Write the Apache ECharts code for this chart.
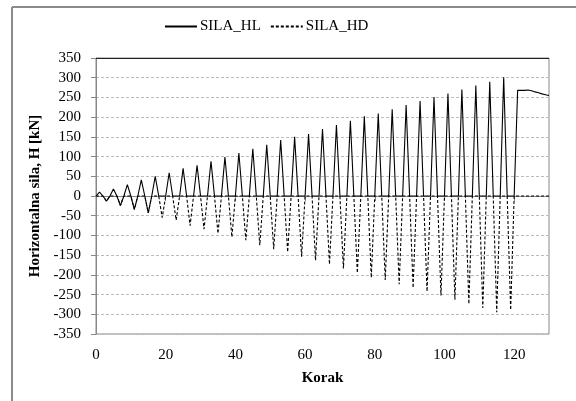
<!DOCTYPE html>
<html>
<head>
<meta charset="utf-8">
<script src="https://cdn.jsdelivr.net/npm/echarts@6/dist/echarts.min.js"></script>
<style>
html,body{margin:0;padding:0;background:#fff;}
#c{width:576px;height:401px;}
</style>
</head>
<body>
<div id="c"></div>
<script>
// Step index is the array position (Korak 0..130)
var silaHL = [
  0,10,0,-13,0,18,0,-24,0,29,
  0,-34,0,41,0,-43,0,50,0,0,
  0,59,0,0,0,70,0,0,0,78,
  0,0,0,88,0,0,0,99,0,0,
  0,109,0,0,0,120,0,0,0,130,
  0,0,0,142,0,0,0,150,0,0,
  0,157,0,0,0,170,0,0,0,180,
  0,0,0,191,0,0,0,202,0,0,
  0,209,0,0,0,220,0,0,0,231,
  0,0,0,241,0,0,0,251,0,0,
  0,260,0,0,0,270,0,0,0,280,
  0,0,0,290,0,0,0,301,0,0,
  0,268,268,268,269,267,264,262,259,257,255
];
var silaHD = [
  0,0,0,-13,0,0,0,-24,0,0,
  0,-34,0,0,0,-43,0,0,0,-55,
  0,0,0,-61,0,0,0,-75,0,0,
  0,-84,0,0,0,-95,0,0,0,-104,
  0,0,0,-112,0,0,0,-125,0,0,
  0,-135,0,0,0,-142,0,0,0,-154,
  0,0,0,-163,0,0,0,-173,0,0,
  0,-184,0,0,0,-195,0,0,0,-207,
  0,0,0,-213,0,0,0,-224,0,0,
  0,-233,0,0,0,-242,0,0,0,-252,
  0,0,0,-263,0,0,0,-274,0,0,
  0,-284,0,0,0,-295,0,0,0,-289,
  0,0,0,0,0,0,0,0,0,0,0
];
var seriesNames = ['SILA_HL', 'SILA_HD'];
var xName = 'Korak';
var yName = 'Horizontalna sila, H [kN]';

function pairs(arr){ return arr.map(function(v,i){ return [i, v]; }); }

var FONT = 'Liberation Serif';
var chart = echarts.init(document.getElementById('c'), null, {renderer:'canvas'});
chart.setOption({
  animation: false,
  backgroundColor: '#fff',
  textStyle: {fontFamily: FONT},
  graphic: [
    {type: 'line', silent: true, z: -10,
     shape: {x1: 12, y1: 7, x2: 580, y2: 7},
     style: {stroke: '#8a8a8a', lineWidth: 2}},
    {type: 'line', silent: true, z: -10,
     shape: {x1: 12, y1: 7, x2: 12, y2: 405},
     style: {stroke: '#8a8a8a', lineWidth: 2}}
  ],
  legend: {
    left: 164, top: 19, padding: 0,
    itemWidth: 32, itemHeight: 12, itemGap: 9,
    itemStyle: {color: 'transparent', borderColor: 'transparent', borderWidth: 0},
    textStyle: {fontFamily: FONT, fontSize: 15, color: '#000', padding: [0,0,0,-2]},
    data: seriesNames
  },
  grid: {left: 96, right: 27, top: 58, bottom: 67, show: true, borderColor: '#888', borderWidth: 1, containLabel: false},
  xAxis: {
    type: 'value', min: 0, max: 130, interval: 20,
    name: xName, nameLocation: 'middle', nameGap: 37,
    nameTextStyle: {fontFamily: FONT, fontSize: 15, fontWeight: 'bold', color: '#000'},
    axisLine: {lineStyle: {color: '#888', width: 1}},
    axisTick: {show: true, inside: false, length: 5, lineStyle: {color: '#888'}},
    axisLabel: {fontFamily: FONT, fontSize: 15, color: '#000', margin: 14, showMaxLabel: false},
    splitLine: {show: false}
  },
  yAxis: {
    type: 'value', min: -350, max: 350, interval: 50,
    name: yName, nameLocation: 'middle', nameGap: 51, nameRotate: 90,
    nameTextStyle: {fontFamily: FONT, fontSize: 15, fontWeight: 'bold', color: '#000'},
    axisLine: {show: true, lineStyle: {color: '#888', width: 1}},
    axisTick: {show: true, inside: false, length: 5, lineStyle: {color: '#888'}},
    axisLabel: {fontFamily: FONT, fontSize: 15, color: '#000', margin: 15},
    splitLine: {show: true, lineStyle: {color: '#bbb', type: [3,2], width: 1}}
  },
  series: [
    {
      name: seriesNames[0], type: 'line', data: pairs(silaHL),
      symbol: 'none', showSymbol: false,
      lineStyle: {color: '#000', width: 1.1, type: 'solid'},
      itemStyle: {color: '#000'},
      markLine: {
        silent: true, symbol: 'none', label: {show: false},
        lineStyle: {color: '#222', type: 'solid', width: 1},
        data: [{yAxis: 350}]
      },
      z: 3
    },
    {
      name: seriesNames[1], type: 'line', data: pairs(silaHD),
      symbol: 'none', showSymbol: false,
      lineStyle: {color: '#000', width: 1.1, type: [3,2]},
      itemStyle: {color: '#000'},
      z: 4
    }
  ]
});
</script>
</body>
</html>
